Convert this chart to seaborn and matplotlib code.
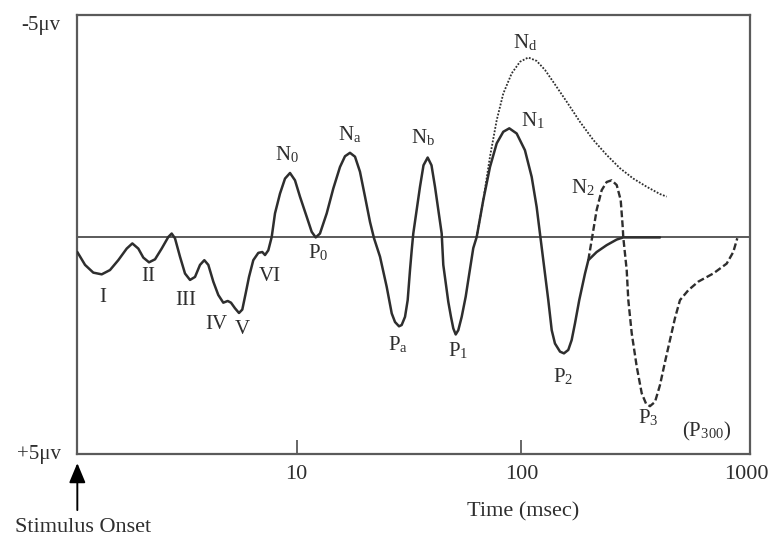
import matplotlib
matplotlib.use("Agg")
import matplotlib.pyplot as plt
from matplotlib.ticker import NullLocator
import pandas as pd
import seaborn as sns

# Main evoked-potential trace: latency (ms) and amplitude (µV, negative plotted upward)
main_ms = [1.057, 1.144, 1.245, 1.357, 1.477, 1.608, 1.753, 1.857, 1.974, 2.078,
           2.203, 2.343, 2.508, 2.684, 2.779, 2.874, 3.026, 3.185, 3.353, 3.529,
           3.714, 3.882, 4.045, 4.256, 4.479, 4.715, 4.933, 5.102, 5.315, 5.537,
           5.728, 5.931, 6.135, 6.411, 6.748, 7.031, 7.228, 7.477, 7.741, 8.007,
           8.427, 8.872, 9.338, 9.826, 10.34, 11.08, 11.66, 12.15, 12.69, 13.60,
           14.55, 15.58, 16.40, 17.26, 18.17, 19.12, 20.13, 21.19, 22.08, 23.48,
           25.14, 26.47, 27.38, 28.52, 29.31, 30.33, 31.17, 31.92, 32.48, 33.01,
           35.36, 36.65, 38.25, 39.78, 41.23, 44.16, 44.89, 47.25, 48.57, 49.74,
           50.98, 52.35, 54.20, 56.47, 57.99, 61.02, 63.20, 67.62, 72.42, 77.58,
           82.99, 88.26, 95.19, 103.6, 111.0, 116.8, 120.9, 131.6, 136.3,
           140.9, 148.4, 154.5, 161.5, 167.2, 173.0, 180.7, 191.7, 198.3, 216.0,
           239.3, 265.2, 283.7, 413.1]
main_uv = [0.34, 0.64, 0.82, 0.86, 0.76, 0.53, 0.26, 0.14, 0.26, 0.47,
           0.58, 0.51, 0.26, -0.01, -0.09, 0.02, 0.45, 0.84, 0.99, 0.92,
           0.64, 0.53, 0.64, 1.03, 1.34, 1.52, 1.48, 1.52, 1.65, 1.76,
           1.68, 1.30, 0.92, 0.53, 0.36, 0.34, 0.41, 0.30, -0.01, -0.56,
           -1.02, -1.37, -1.50, -1.33, -0.95, -0.48, -0.13, 0.00, -0.09, -0.56,
           -1.14, -1.64, -1.89, -1.97, -1.88, -1.53, -0.95, -0.36, 0.02, 0.45,
           1.15, 1.77, 1.97, 2.07, 2.04, 1.85, 1.46, 0.76, 0.30, -0.09,
           -1.18, -1.68, -1.86, -1.68, -1.18, -0.09, 0.64, 1.50, 1.85, 2.12,
           2.26, 2.16, 1.85, 1.38, 0.99, 0.25, -0.01, -0.87, -1.64, -2.19,
           -2.46, -2.54, -2.42, -2.03, -1.41, -0.71, -0.08, 1.46, 2.16,
           2.47, 2.66, 2.70, 2.62, 2.39, 2.00, 1.46, 0.84, 0.53, 0.34,
           0.18, 0.05, 0.00, 0.00]

# Nd trace, leaving the N1 upstroke
nd_ms = [63.20, 67.62, 72.42, 77.58, 82.99, 90.45, 98.47, 107.2, 116.8, 127.2,
         138.5, 158.9, 182.1, 208.6, 239.3, 274.3, 314.3, 360.5, 413.1, 442.4]
nd_uv = [-0.01, -0.87, -1.88, -2.73, -3.35, -3.82, -4.09, -4.19, -4.11, -3.90,
         -3.62, -3.16, -2.69, -2.27, -1.92, -1.61, -1.37, -1.18, -1.01, -0.95]

# N2 / P3 (P300) trace, leaving the P2 upstroke
p3_ms = [198.3, 205.3, 216.0, 227.4, 239.3, 251.8, 265.2, 276.3, 282.0, 283.7,
         293.8, 298.7, 309.3, 325.6, 342.7, 358.1, 372.8, 392.6, 413.1, 434.9,
         457.7, 481.7, 507.1, 552.1, 611.6, 713.3, 818.2, 875.3, 912.0]
p3_uv = [0.53, 0.06, -0.64, -1.10, -1.29, -1.33, -1.22, -0.87, -0.25, 0.00,
         0.76, 1.46, 2.23, 3.01, 3.63, 3.87, 3.93, 3.83, 3.44, 2.90,
         2.39, 1.88, 1.46, 1.23, 1.03, 0.84, 0.61, 0.34, 0.02]

# Component names and where each is written
comp_names = ["I", "II", "III", "IV", "V", "VI",
              r"N$_\mathregular{0}$", r"P$_\mathregular{0}$",
              r"N$_\mathregular{a}$", r"P$_\mathregular{a}$",
              r"N$_\mathregular{b}$", r"P$_\mathregular{1}$",
              r"N$_\mathregular{1}$", r"N$_\mathregular{d}$",
              r"N$_\mathregular{2}$", r"P$_\mathregular{2}$",
              r"P$_\mathregular{3}$", r"(P$_\mathregular{300}$)"]
comp_ms = [1.375, 2.180, 3.218, 4.375, 5.710, 7.607,
           9.054, 12.44, 17.26, 28.22, 36.46, 52.19,
           112.5, 103.6, 187.8, 153.4, 365.3, 668.6]
comp_uv = [1.39, 0.92, 1.46, 2.02, 2.14, 0.92,
           -1.92, 0.37, -2.38, 2.51, -2.31, 2.65,
           -2.71, -4.52, -1.15, 3.25, 4.21, 4.51]

x_ticks = [10, 100, 1000]
x_tick_labels = ["10", "100", "1000"]
y_ticks = [-5, 5]
y_tick_labels = ["-5\u03bcv", "+5\u03bcv"]

sns.set_theme(style="white")
plt.rcParams["font.family"] = ["Liberation Serif", "DejaVu Serif"]
plt.rcParams["mathtext.fontset"] = "stix"

INK = "#2e2e2e"
FRAME = "#5a5a5a"

fig = plt.figure(figsize=(7.74, 5.38), dpi=100)
ax = fig.add_axes([0.0999, 0.1556, 0.8691, 0.8166])
ax.set_xscale("log")

main = pd.DataFrame({"ms": main_ms, "uv": main_uv})
nd = pd.DataFrame({"ms": nd_ms, "uv": nd_uv})
p3 = pd.DataFrame({"ms": p3_ms, "uv": p3_uv})

ax.axhline(0, color=FRAME, lw=1.4, zorder=1)
sns.lineplot(data=nd, x="ms", y="uv", ax=ax, color=INK, linewidth=1.3,
             linestyle=(0, (1.0, 0.9)), estimator=None, sort=False, zorder=2)
sns.lineplot(data=p3, x="ms", y="uv", ax=ax, color=INK, linewidth=1.7,
             linestyle=(0, (2.9, 1.3)), estimator=None, sort=False, zorder=3)
sns.lineplot(data=main, x="ms", y="uv", ax=ax, color=INK, linewidth=1.8,
             estimator=None, sort=False, zorder=4)
for ln in ax.lines:
    ln.set_solid_joinstyle("round")
    ln.set_dash_joinstyle("round")

for name, t, v in zip(comp_names, comp_ms, comp_uv):
    ax.text(t, v, name, ha="center", va="center", fontsize=15, color=INK)

ax.set_xlim(1.057, 1039)
ax.set_ylim(5.05, -5.18)
ax.set_xticks(x_ticks, x_tick_labels)
ax.xaxis.set_minor_locator(NullLocator())
ax.set_yticks(y_ticks, y_tick_labels)
ax.tick_params(axis="x", direction="in", length=10, width=1.3, color=FRAME,
               labelsize=16, labelcolor=INK, pad=8, bottom=True)
ax.tick_params(axis="y", length=0, labelsize=15, labelcolor=INK, pad=12)
ax.xaxis.get_major_ticks()[-1].tick1line.set_visible(False)
ax.set_xlabel("Time (msec)", fontsize=16, color=INK)
ax.xaxis.set_label_coords(0.6626, -0.11)
ax.set_ylabel("")

for side in ax.spines.values():
    side.set_visible(True)
    side.set_color(FRAME)
    side.set_linewidth(1.6)

# Stimulus onset marker below the time axis origin
ax.annotate("", xy=(0, -0.02), xycoords="axes fraction",
            xytext=(0, -0.127), textcoords="axes fraction",
            arrowprops=dict(arrowstyle="-|>,head_length=0.6,head_width=0.25",
                            mutation_scale=20, color="black", lw=1.4,
                            shrinkA=0, shrinkB=0))
fig.text(83.5 / 774, 1 - 527 / 538, "Stimulus Onset", ha="center", va="center",
         fontsize=16, color=INK)

fig.savefig("out.png", dpi=100)
